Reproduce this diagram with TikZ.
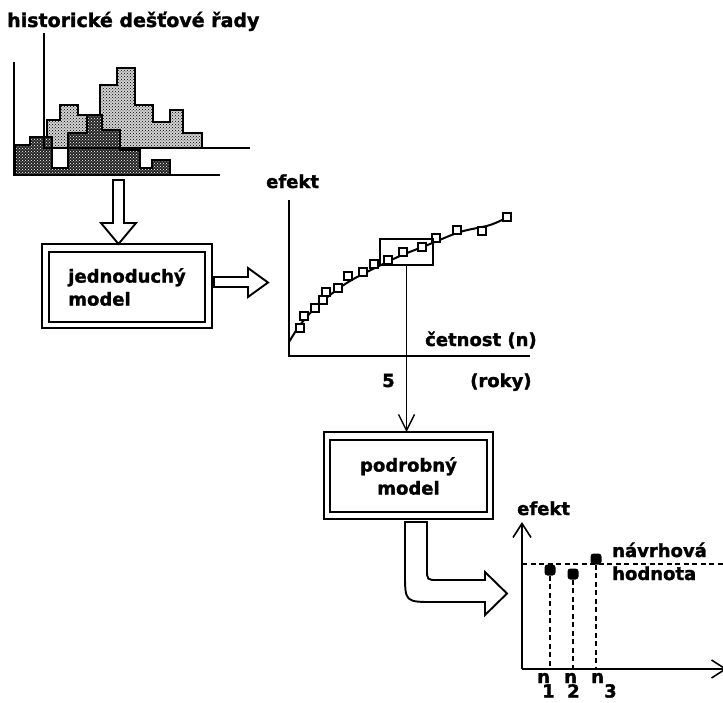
\documentclass[tikz,border=0pt]{standalone}
\usepackage{fontspec}
\setmainfont{DejaVu Sans}
\newfontfamily\heavy{DejaVu Sans}[UprightFont={* Bold}, FakeBold=1.6]
\usetikzlibrary{patterns,arrows.meta}
\begin{document}
\begin{tikzpicture}[x=1pt,y=-1pt,
  lbl/.style={font=\fontsize{18}{23}\selectfont\heavy, inner sep=0pt},
  ax/.style={line width=2pt},
  thin/.style={line width=1.4pt},
  blockarrow/.style={draw, line width=1.9pt, fill=white, line join=miter},
  mbox/.style={draw, line width=2pt, inner sep=0pt, font=\fontsize{18}{23}\selectfont\heavy},
  sq/.style={draw, fill=white, line width=1.6pt, minimum size=8pt, inner sep=0pt},
  dot/.style={fill=black, rounded corners=3pt, minimum size=11pt, inner sep=0pt},
  dsh/.style={line width=1.5pt, dash pattern=on 5pt off 3.5pt},
  barb/.style={-{Straight Barb[length=14pt,width=18pt,line width=1.6pt]}}]
\useasboundingbox (0,0) rectangle (723,702);

% ---------- title ----------
\node[lbl, font=\fontsize{19}{23}\selectfont\heavy, anchor=base west] (title) at (7,27) {historické dešťové řady};

% ---------- histograms ----------
\draw[line width=2pt, preaction={fill=black!18}, pattern=crosshatch dots]
  (47,148) -- (47,120) -- (60,120) -- (60,105) -- (78,105) -- (78,115) -- (100,115)
  -- (100,85) -- (117,85) -- (117,68) -- (135,68) -- (135,105) -- (153,105)
  -- (153,122) -- (170,122) -- (170,110) -- (183,110) -- (183,133) -- (202,133)
  -- (202,148) -- cycle;
\draw[line width=2pt, preaction={fill=black!85}, pattern=crosshatch dots, pattern color=white]
  (15,175) -- (15,145) -- (30,145) -- (30,137) -- (52,137) -- (52,168) -- (68,168)
  -- (68,133) -- (87,133) -- (87,115) -- (102,115) -- (102,130) -- (120,130)
  -- (120,150) -- (140,150) -- (140,168) -- (152,168) -- (152,160) -- (170,160)
  -- (170,175) -- cycle;
\coordinate (h1o) at (14,175);
\coordinate (h2o) at (44,148);
\draw[ax] (14,62) -- (h1o) -- (220,175);
\draw[ax] (44,33) -- (h2o) -- (250,148);

% ---------- simple model ----------
\node[mbox, minimum width=156pt, minimum height=70pt, align=left] (jm) at (127,287) {jednoduchý\\model};
\draw[thin] ([shift={(-6,-7)}]jm.north west) rectangle ([shift={(6,5)}]jm.south east);
\draw[blockarrow] (113,180) -- (124,180) -- (124,223) -- (136,223) -- (118.5,244)
  -- (101,223) -- (113,223) -- cycle;
\draw[blockarrow] (214,277) -- (248,277) -- (248,268) -- (268,282.5) -- (248,297)
  -- (248,287) -- (214,287) -- cycle;

% ---------- chart 1 ----------
\coordinate (o1) at (289,356);
\draw[ax] (289,200) -- (o1) -- (530,356);
\node[lbl, anchor=base west] (ef1) at (266,188) {efekt};
\node[lbl, anchor=base west] (cet) at (425,346) {četnost (n)};
\node[lbl, anchor=base west] (five) at (382,387) {5};
\node[lbl, anchor=base west] (roky) at (470,387) {(roky)};
\draw[ax] plot[smooth, tension=0.6] coordinates {(289,342) (300,325) (315,308) (330,295)
  (350,281) (375,268) (400,256) (430,244) (460,232) (490,225) (510,216)};
\foreach \p [count=\i] in {(300,328),(304,316),(315,308),(323,300),(326,292),(338,288),
  (348,276),(363,272),(374,264),(388,260),(403,252),(422,247),(436,238),(457,230),
  (482,231),(507,217)}
  \node[sq] (s\i) at \p {};
\node[draw, thin, minimum width=53pt, minimum height=26pt, inner sep=0pt] (sel) at (406.5,252) {};

% ---------- detailed model ----------
\node[mbox, minimum width=157pt, minimum height=72pt, align=center] (pm) at (408.5,476) {podrobný\\model};
\draw[thin] ([shift={(-5,-7)}]pm.north west) rectangle ([shift={(5,6)}]pm.south east);
\coordinate (pmtop) at ([shift={(0,-7)}]pm.north);
\draw[thin, -{Straight Barb[length=16pt,width=16pt,line width=1.4pt]}] (sel.south) -- (sel.south |- pmtop);

% bent block arrow
\draw[blockarrow] (405,522) -- (427,522) -- (427,569) .. controls (427,580) .. (438,580)
  -- (485,580) -- (485,572) -- (507,593.5) -- (485,615) -- (485,602) -- (434,602)
  .. controls (405,602) .. (405,573) -- cycle;

% ---------- chart 2 ----------
\coordinate (o2) at (522,669);
\draw[ax, barb] (o2) -- (522,522);
\draw[ax, barb] (o2) -- (727,669);
\node[lbl, anchor=base west] (ef2) at (517,515) {efekt};
\draw[dsh] (522,564) -- (723,564);
\node[dot] (d1) at (550,570) {};
\node[dot] (d2) at (573,574) {};
\node[dot] (d3) at (596,559) {};
\draw[dsh] (d1) -- (d1 |- o2);
\draw[dsh] (d2) -- (d2 |- o2);
\draw[dsh] (d3) -- (d3 |- o2);
\node[lbl, anchor=base west] (nv) at (612,557) {návrhová};
\node[lbl, anchor=base west] (hd) at (612,580) {hodnota};
\node[lbl, anchor=base west] (n1) at (537,683) {n};
\node[lbl, anchor=base west] (i1) at (542,697.5) {1};
\node[lbl, anchor=base west] (n2) at (564,683) {n};
\node[lbl, anchor=base west] (i2) at (567,697.5) {2};
\node[lbl, anchor=base west] (n3) at (591,683) {n};
\node[lbl, anchor=base west] (i3) at (604,697.5) {3};
\end{tikzpicture}
\end{document}
